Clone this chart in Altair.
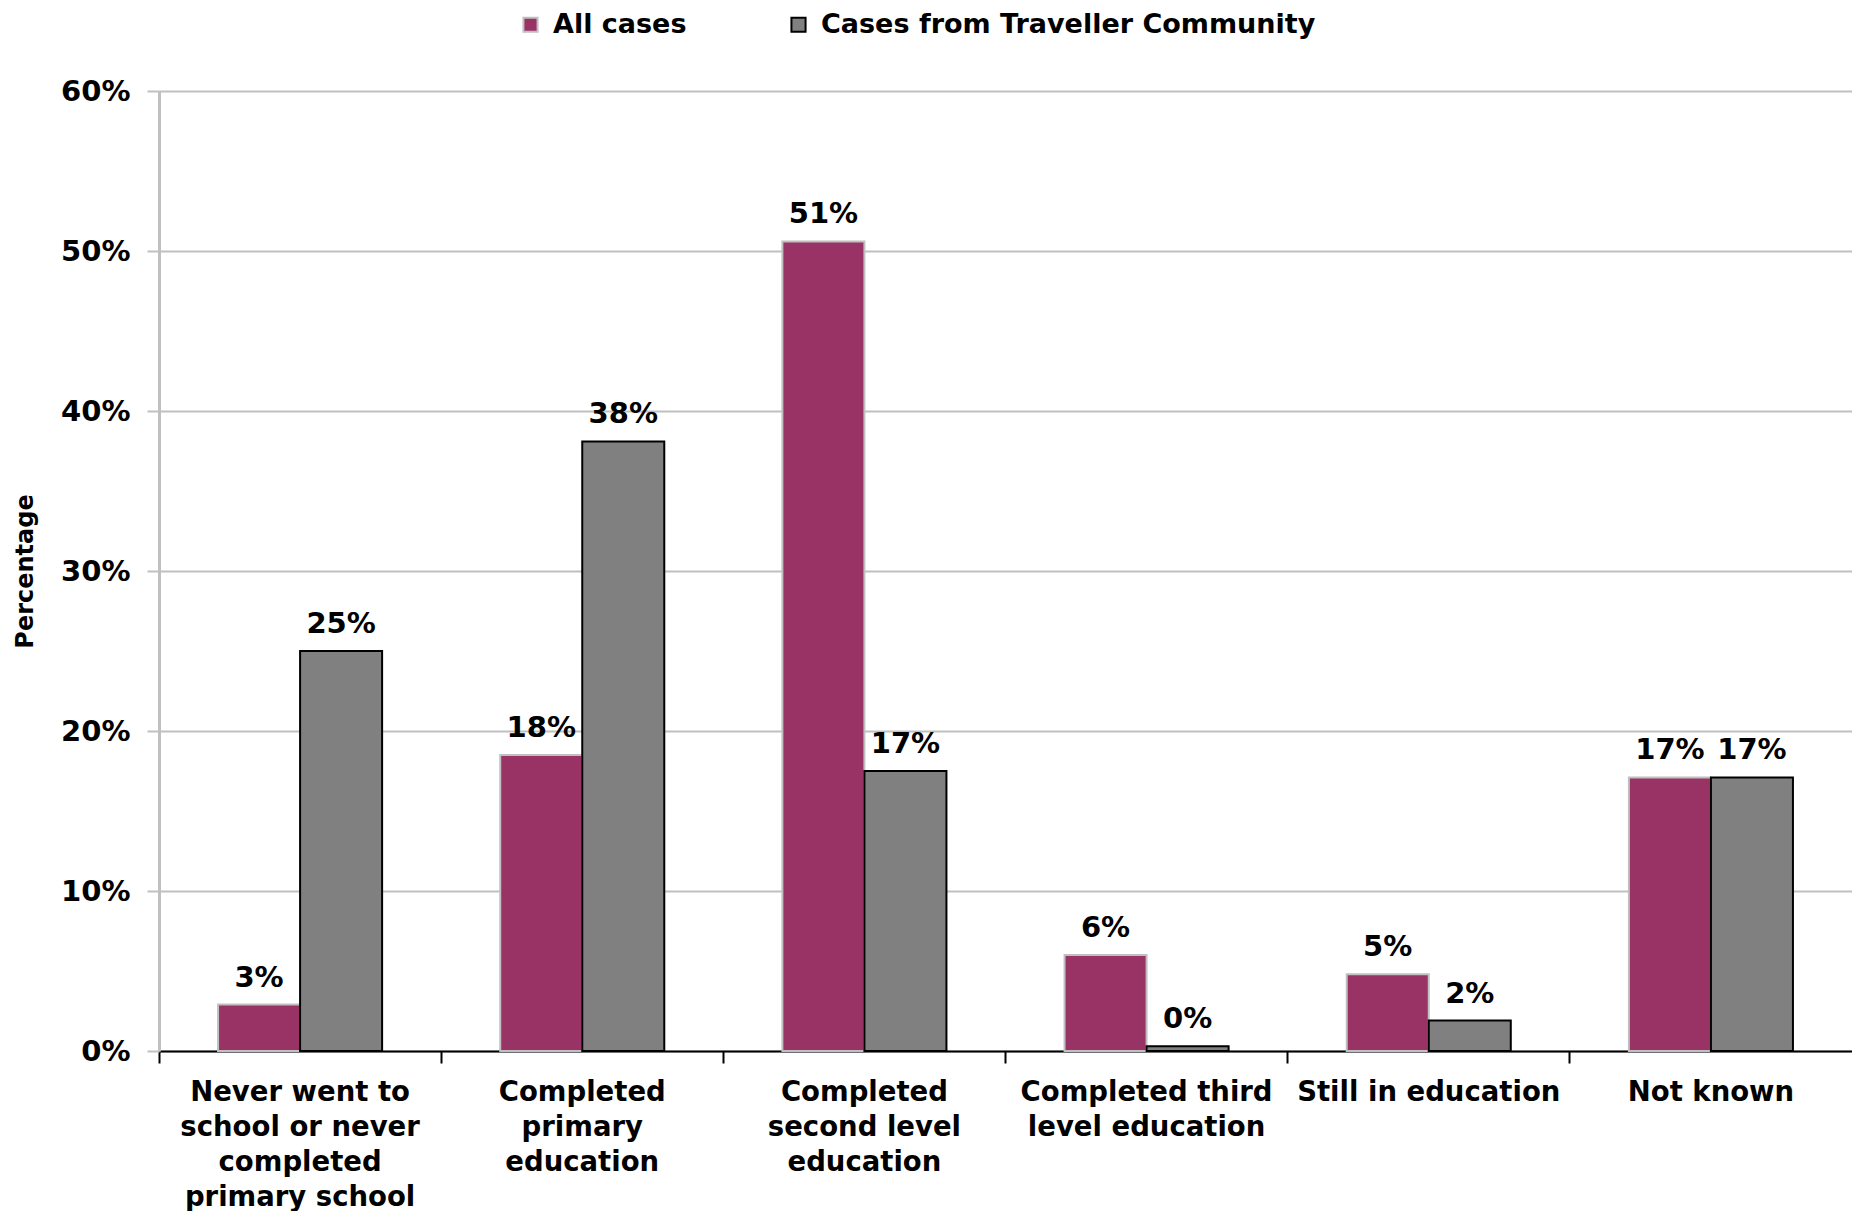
import altair as alt
import pandas as pd

categories = [
    "Never went to|school or never|completed|primary school",
    "Completed|primary|education",
    "Completed|second level|education",
    "Completed third|level education",
    "Still in education",
    "Not known",
]
series = ["All cases", "Cases from Traveller Community"]
all_cases = [2.9, 18.5, 50.6, 6.0, 4.8, 17.1]
traveller = [25.0, 38.1, 17.5, 0.3, 1.9, 17.1]
all_labels = ["3%", "18%", "51%", "6%", "5%", "17%"]
trav_labels = ["25%", "38%", "17%", "0%", "2%", "17%"]
y_ticks = [0, 10, 20, 30, 40, 50, 60]

rows = []
for i, c in enumerate(categories):
    rows.append({"category": c, "series": series[0], "value": all_cases[i], "label": all_labels[i]})
    rows.append({"category": c, "series": series[1], "value": traveller[i], "label": trav_labels[i]})
df = pd.DataFrame(rows)

FONT = "DejaVu Sans"

x_enc = alt.X(
    "category:N",
    sort=categories,
    scale=alt.Scale(paddingInner=0, paddingOuter=0),
    axis=alt.Axis(
        title=None,
        labelExpr="split(datum.label, '|')",
        labelAngle=0,
        labelFont=FONT,
        labelFontWeight="bold",
        labelFontSize=27.5,
        labelColor="#000000",
        labelLineHeight=35,
        labelLimit=400,
        labelBaseline="top",
        labelPadding=15,
        bandPosition=0,
        domainColor="#000000",
        domainWidth=2,
        tickColor="#000000",
        tickWidth=2,
        tickSize=12,
        grid=False,
    ),
)
xoff_enc = alt.XOffset(
    "series:N", sort=series, scale=alt.Scale(paddingOuter=0.72, paddingInner=0)
)
y_enc = alt.Y(
    "value:Q",
    scale=alt.Scale(domain=[0, 60], nice=False),
    axis=alt.Axis(
        title="Percentage",
        titleFont=FONT,
        titleFontWeight="bold",
        titleFontSize=24,
        titleColor="#000000",
        titlePadding=23,
        values=y_ticks,
        labelExpr="datum.value + '%'",
        labelFont=FONT,
        labelFontWeight="bold",
        labelFontSize=29,
        labelColor="#000000",
        labelPadding=17,
        domainColor="#c0c0c0",
        domainWidth=3,
        tickColor="#c0c0c0",
        tickWidth=2,
        tickSize=12,
        grid=True,
        gridColor="#c0c0c0",
        gridWidth=2,
    ),
)

legend = alt.Legend(
    title=None,
    orient="none",
    legendX=358,
    legendY=-80,
    direction="horizontal",
    symbolType="square",
    symbolSize=200,
    symbolStrokeWidth=2,
    labelFont=FONT,
    labelFontWeight="bold",
    labelFontSize=27,
    labelColor="#000000",
    labelOffset=9,
    columnPadding=98,
    labelLimit=600,
)

bars = alt.Chart(df).mark_bar(strokeWidth=2).encode(
    x=x_enc,
    xOffset=xoff_enc,
    y=y_enc,
    color=alt.Color(
        "series:N",
        sort=series,
        scale=alt.Scale(domain=series, range=["#993366", "#808080"]),
        legend=legend,
    ),
    stroke=alt.Stroke(
        "series:N",
        sort=series,
        scale=alt.Scale(domain=series, range=["#c0c0c0", "#000000"]),
        legend=legend,
    ),
)

labels = alt.Chart(df).mark_text(
    font=FONT, fontWeight="bold", fontSize=29, color="#000000",
    baseline="alphabetic", dy=-18,
).encode(
    x=alt.X("category:N", sort=categories),
    xOffset=alt.XOffset("series:N", sort=series),
    y=alt.Y("value:Q"),
    text="label:N",
)

chart = (
    alt.layer(bars, labels)
    .properties(width=1693, height=960, padding={"left": 5, "top": 3, "right": 0, "bottom": 0})
    .configure_view(strokeWidth=0)
    .configure(background="#ffffff")
)

chart.save("out.html", embed_options={"renderer": "svg", "actions": False})
